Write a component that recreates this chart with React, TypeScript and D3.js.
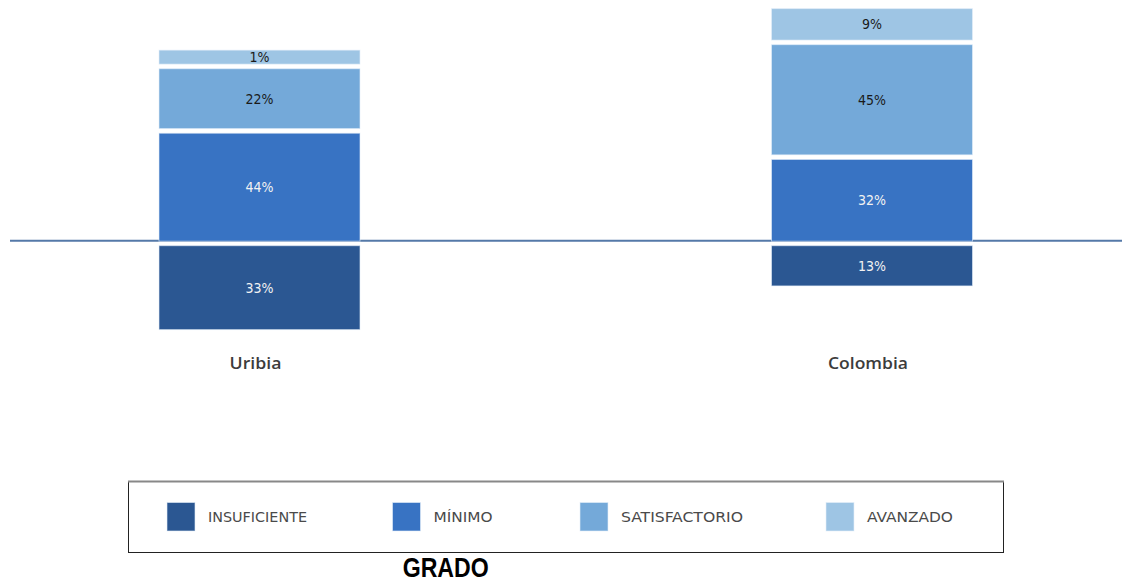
import React from "react";
import * as d3 from "d3";

const categories = ["Uribia", "Colombia"];
const insuficiente = [33, 13];
const minimo = [44, 32];
const satisfactorio = [22, 45];
const avanzado = [1, 9];
const levels = ["INSUFICIENTE", "MÍNIMO", "SATISFACTORIO", "AVANZADO"];
const colors = ["#2B5792", "#3873C3", "#74A9D9", "#9EC5E4"];
const labelColors = ["#f2f2f2", "#f2f2f2", "#1a1a1a", "#1a1a1a"];

const W = 1127;
const H = 584;
const FONT = "'DejaVu Sans Condensed', 'DejaVu Sans', sans-serif";

const legendXs = [167, 392.5, 580, 826];
const legendLens = [99, 59, 122, 86];
const catLens = [52, 80];

export default function App() {
  const x = d3.scalePoint<string>().domain(categories).range([259.5, 872]);
  const barW = 201;
  const h = d3.scaleLinear().domain([0, 100]).range([0, 218.6]);
  const pad = 11.8;
  const gap = 4.6;
  const baseUp = 241.2;
  const baseDown = 245.7;

  const segs: { key: string; x: number; y: number; h: number; v: number; li: number }[] = [];
  categories.forEach((c, i) => {
    const cx = x(c)!;
    const hi = h(insuficiente[i]) + pad;
    segs.push({ key: c + "ins", x: cx - barW / 2, y: baseDown, h: hi, v: insuficiente[i], li: 0 });
    let top = baseUp;
    const ups = [minimo[i], satisfactorio[i], avanzado[i]];
    ups.forEach((v, j) => {
      const sh = h(v) + pad;
      top -= sh;
      segs.push({ key: c + j, x: cx - barW / 2, y: top, h: sh, v, li: j + 1 });
      top -= gap;
    });
  });

  return (
    <svg width={W} height={H} style={{ position: "absolute", left: 0, top: 0, background: "#fff" }}>
      <line x1={10} x2={1122} y1={240.7} y2={240.7} stroke="#5579A8" strokeWidth={2} />
      {segs.map((s) => (
        <g key={s.key}>
          <rect x={s.x} y={s.y} width={barW} height={s.h} fill={colors[s.li]} stroke="rgba(230,240,250,0.6)" strokeWidth={1} />
          <text
            x={s.x + barW / 2}
            y={s.y + s.h / 2}
            dy="0.36em"
            textAnchor="middle"
            fontFamily={FONT}
            fontSize={14}
            fill={labelColors[s.li]}
          >
            {s.v}%
          </text>
        </g>
      ))}
      {categories.map((c, i) => (
        <text
          key={c}
          x={x(c)! - 4}
          y={369}
          textAnchor="middle"
          fontFamily="'Open Sans', 'DejaVu Sans', sans-serif"
          fontWeight={600}
          fontSize={15.5}
          textLength={catLens[i]}
          lengthAdjust="spacingAndGlyphs"
          fill="#3c3c3c"
        >
          {c}
        </text>
      ))}
      <rect x={128.5} y={481.5} width={875} height={71} fill="#fff" stroke="#222" strokeWidth={1} />
      <line x1={128} x2={1004} y1={481.5} y2={481.5} stroke="#888" strokeWidth={2} />
      {levels.map((l, i) => (
        <g key={l}>
          <rect x={legendXs[i]} y={502.5} width={28} height={28.5} fill={colors[i]} stroke="rgba(230,240,250,0.6)" strokeWidth={1} />
          <text
            x={legendXs[i] + 41}
            y={522}
            fontFamily={FONT}
            fontSize={14}
            textLength={legendLens[i]}
            lengthAdjust="spacingAndGlyphs"
            fill="#4a4a4a"
          >
            {l}
          </text>
        </g>
      ))}
      <text
        x={445.7}
        y={577}
        textAnchor="middle"
        fontFamily="'Liberation Sans Narrow', 'Arial Narrow', 'Liberation Sans', sans-serif"
        fontWeight="bold"
        fontSize={28}
        textLength={86}
        lengthAdjust="spacingAndGlyphs"
        fill="#000"
      >
        GRADO
      </text>
    </svg>
  );
}
